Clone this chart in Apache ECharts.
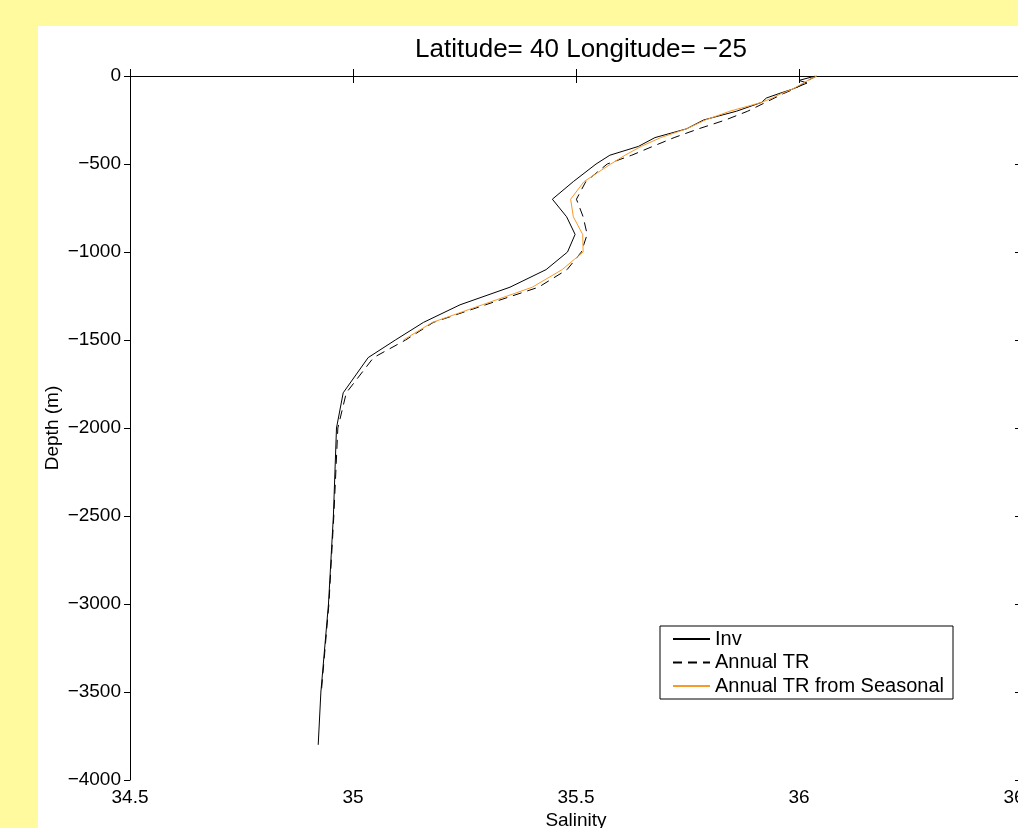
<!DOCTYPE html>
<html>
<head>
<meta charset="utf-8">
<title>Salinity profile</title>
<script src="https://cdn.jsdelivr.net/npm/echarts@6/dist/echarts.min.js"></script>
<style>
  html, body { margin: 0; padding: 0; width: 1018px; height: 828px; overflow: hidden; background: #fffa9e; }
  #chart { position: absolute; left: 38px; top: 26px; width: 1086px; height: 840px; background: #ffffff; }
</style>
</head>
<body>
<div id="chart"></div>
<script>
// axis ticks
const salTicks = [34.5, 35, 35.5, 36, 36.5];
const depthTicks = [0, -500, -1000, -1500, -2000, -2500, -3000, -3500, -4000];

const seriesNames = ['Inv', 'Annual TR', 'Annual TR from Seasonal'];

// Inv
const invDepth = [0, -25, -40, -75, -100, -125, -150, -200, -250, -300, -350, -400, -450, -500, -600, -700, -800, -900, -1000, -1100, -1200, -1300, -1400, -1500, -1600, -1800, -2000, -2500, -3000, -3500, -3800];
const invSal = [36.037, 36.000, 36.018, 35.985, 35.955, 35.927, 35.916, 35.860, 35.786, 35.748, 35.677, 35.640, 35.576, 35.545, 35.494, 35.447, 35.479, 35.498, 35.481, 35.433, 35.352, 35.240, 35.158, 35.095, 35.034, 34.978, 34.963, 34.956, 34.945, 34.928, 34.922];

// Annual TR
const annDepth = [0, -25, -50, -75, -100, -150, -200, -250, -300, -350, -400, -450, -500, -600, -700, -800, -900, -1000, -1100, -1200, -1300, -1400, -1500, -1600, -1800, -2000, -2500, -3000, -3500];
const annSal = [36.040, 36.020, 36.005, 35.988, 35.965, 35.925, 35.885, 35.835, 35.775, 35.720, 35.672, 35.625, 35.570, 35.522, 35.501, 35.516, 35.525, 35.512, 35.480, 35.416, 35.297, 35.180, 35.118, 35.046, 34.985, 34.966, 34.957, 34.946, 34.929];

// Annual TR from Seasonal
const seaDepth = [0, -25, -50, -75, -100, -125, -150, -200, -250, -300, -350, -400, -450, -500, -600, -700, -800, -900, -1000, -1100, -1200, -1300, -1400, -1500];
const seaSal = [36.040, 36.020, 36.003, 35.985, 35.960, 35.940, 35.916, 35.845, 35.790, 35.748, 35.690, 35.646, 35.610, 35.578, 35.518, 35.488, 35.494, 35.515, 35.516, 35.469, 35.402, 35.290, 35.178, 35.113];

function pairs(sal, depth) {
  return sal.map((s, i) => [s, depth[i]]);
}

const minus = v => String(v).replace('-', '\u2212');
const font = 'Liberation Sans, Arial, Helvetica, sans-serif';

const chart = echarts.init(document.getElementById('chart'));

chart.setOption({
  animation: false,
  textStyle: { fontFamily: font, color: '#000' },
  title: {
    text: 'Latitude= 40 Longitude= \u221225',
    left: 'center',
    top: 11,
    padding: 0,
    textStyle: { fontFamily: font, fontSize: 26, fontWeight: 'normal', color: '#000' }
  },
  legend: {
    data: seriesNames,
    orient: 'vertical',
    left: 622,
    top: 600,
    padding: [3, 9, 3, 12],
    itemGap: 3.5,
    itemWidth: 37,
    itemHeight: 14,
    itemStyle: { opacity: 0 },
    backgroundColor: '#fff',
    borderColor: '#000',
    borderWidth: 1,
    borderRadius: 0,
    textStyle: { fontFamily: font, fontSize: 20, color: '#000', lineHeight: 20 }
  },
  grid: { left: 92, top: 50, width: 892, height: 704, containLabel: false, outerBoundsMode: 'none' },
  xAxis: [{
    type: 'value',
    position: 'bottom',
    min: salTicks[0],
    max: salTicks[salTicks.length - 1],
    interval: 0.5,
    name: 'Salinity',
    nameLocation: 'middle',
    nameGap: 31,
    nameMoveOverlap: false,
    nameTextStyle: { fontFamily: font, fontSize: 19, color: '#000' },
    axisLine: { lineStyle: { color: '#000', width: 1 } },
    axisTick: { inside: true, length: 7, lineStyle: { color: '#000' } },
    axisLabel: { fontFamily: font, fontSize: 19, color: '#000', margin: 8, showMinLabel: true, showMaxLabel: true },
    splitLine: { show: false }
  }, {
    type: 'value',
    position: 'top',
    min: salTicks[0],
    max: salTicks[salTicks.length - 1],
    interval: 0.5,
    axisLine: { lineStyle: { color: '#000', width: 1 } },
    axisTick: { inside: true, length: 7, lineStyle: { color: '#000' } },
    axisLabel: { show: false },
    splitLine: { show: false }
  }],
  yAxis: [{
    type: 'value',
    position: 'left',
    min: depthTicks[depthTicks.length - 1],
    max: depthTicks[0],
    interval: 500,
    name: 'Depth (m)',
    nameLocation: 'middle',
    nameGap: 68,
    nameMoveOverlap: false,
    nameTextStyle: { fontFamily: font, fontSize: 19, color: '#000' },
    axisLine: { onZero: false, lineStyle: { color: '#000', width: 1 } },
    axisTick: { inside: false, length: 6, lineStyle: { color: '#000' } },
    axisLabel: { fontFamily: font, fontSize: 19, color: '#000', margin: 9, formatter: minus },
    splitLine: { show: false }
  }, {
    type: 'value',
    position: 'right',
    min: depthTicks[depthTicks.length - 1],
    max: depthTicks[0],
    interval: 500,
    axisLine: { onZero: false, lineStyle: { color: '#000', width: 1 } },
    axisTick: { inside: true, length: 7, lineStyle: { color: '#000' } },
    axisLabel: { show: false },
    splitLine: { show: false }
  }],
  series: [{
    name: seriesNames[0],
    type: 'line',
    symbol: 'none',
    color: '#000',
    lineStyle: { color: '#000', width: 1 },
    data: pairs(invSal, invDepth)
  }, {
    name: seriesNames[1],
    type: 'line',
    symbol: 'none',
    color: '#000',
    lineStyle: { color: '#000', width: 1, type: [9, 6] },
    data: pairs(annSal, annDepth)
  }, {
    name: seriesNames[2],
    type: 'line',
    symbol: 'none',
    color: '#f79a2a',
    lineStyle: { color: '#f79a2a', width: 1 },
    data: pairs(seaSal, seaDepth)
  }]
});
</script>
</body>
</html>
